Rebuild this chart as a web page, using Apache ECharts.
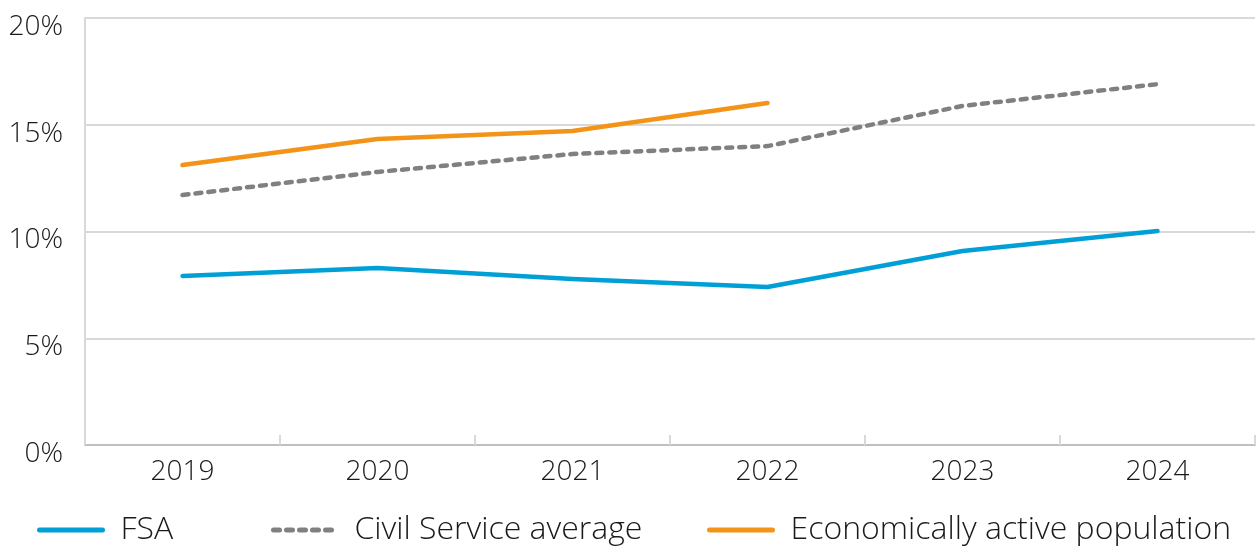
<!DOCTYPE html>
<html><head><meta charset="utf-8">
<script src="https://cdn.jsdelivr.net/npm/echarts@6/dist/echarts.min.js"></script>
<style>html,body{margin:0;padding:0;background:#fff}#c{width:1260px;height:550px}</style>
</head><body><div id="c"></div>
<script>
const years = ['2019','2020','2021','2022','2023','2024'];
const fsa = [7.92, 8.29, 7.78, 7.40, 9.09, 10.02];
const civilService = [11.71, 12.79, 13.63, 14.00, 15.88, 16.90];
const econActive = [13.11, 14.33, 14.71, 16.02, null, null];
const yTicks = [0, 5, 10, 15, 20];

const FONT = '"Open Sans"';
const chart = echarts.init(document.getElementById('c'), null, {renderer:'canvas'});
const txt = {fontFamily: FONT, fontWeight: 300, fontSize: 28, color: '#1a1a1a'};
function leg(name, left) {
  return {
    data: [name], left: left, top: 509, itemWidth: 63, itemHeight: 18, itemGap: 0,
    textStyle: Object.assign({}, txt, {fontSize: 32, padding: [0,0,0,13]}),
    itemStyle: {opacity: 0},
    lineStyle: {width: 5, cap: 'round'},
    selectedMode: false
  };
}
chart.setOption({
  animation: false,
  grid: {left: 85, right: 5, top: 18, bottom: 105},
  legend: [leg('FSA', 32), leg('Civil Service average', 266), leg('Economically active population', 702)],
  xAxis: {
    type: 'category', data: years, boundaryGap: true,
    axisLine: {lineStyle: {color: '#bfbfbf', width: 2}},
    axisTick: {show: true, inside: true, length: 10, lineStyle: {color: '#d9d9d9', width: 2}},
    axisLabel: Object.assign({}, txt, {margin: 13})
  },
  yAxis: {
    type: 'value', min: 0, max: 20, interval: 5,
    axisLine: {show: true, lineStyle: {color: '#d9d9d9', width: 2}},
    axisTick: {show: false},
    splitLine: {lineStyle: {color: '#d9d9d9', width: 2}},
    axisLabel: {margin: 22, formatter: v => yTicks.includes(v) ? '{a|' + v + '%}' : '',
      rich: {a: Object.assign({}, txt, {padding: [18, 0, 0, 0]})}}
  },
  series: [
    {name: 'FSA', type: 'line', data: fsa, symbol: 'none', color: '#00a0d6',
     lineStyle: {width: 4.5, cap: 'round', join: 'round'}},
    {name: 'Civil Service average', type: 'line', data: civilService, symbol: 'none', color: '#808080',
     lineStyle: {width: 4.5, type: [6, 7], cap: 'round', join: 'round'}},
    {name: 'Economically active population', type: 'line', data: econActive, symbol: 'none', color: '#f39419',
     lineStyle: {width: 4.5, cap: 'round', join: 'round'}}
  ]
});
</script></body></html>
